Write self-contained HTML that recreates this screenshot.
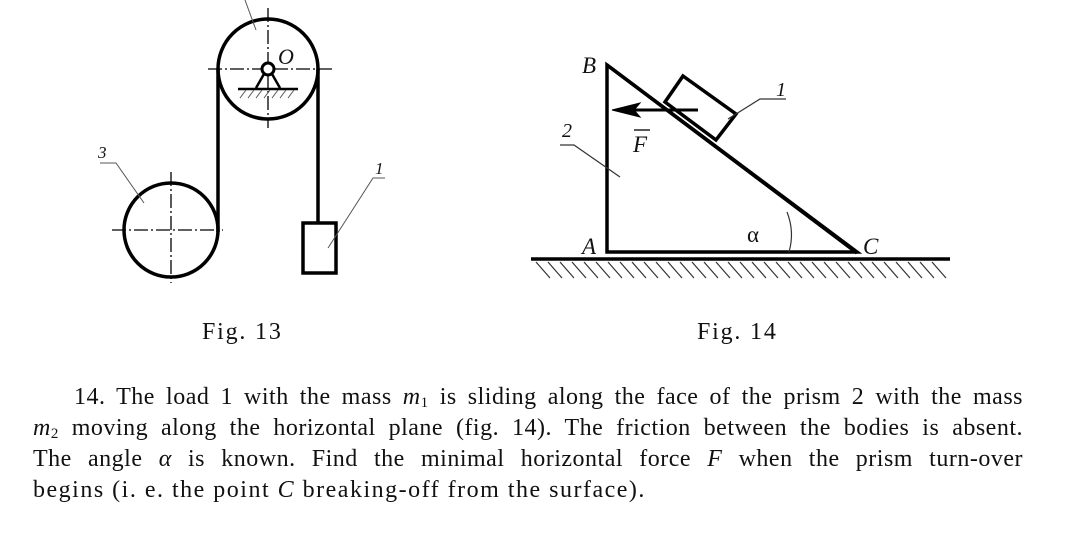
<!DOCTYPE html>
<html><head><meta charset="utf-8"><style>
body{margin:0;width:1080px;height:536px;background:#fff;position:relative;overflow:hidden;font-family:"Liberation Serif",serif;color:#111}
.l{position:absolute;font-size:24px;line-height:26px;white-space:nowrap;letter-spacing:1.5px}
.j{text-align:justify;text-align-last:justify;white-space:normal;letter-spacing:0.5px}
i{font-style:italic}
sub{font-size:15px;vertical-align:-3px;line-height:0}
.cap{position:absolute;font-size:24px;top:319px;letter-spacing:1.8px}
</style></head><body>
<svg width="1080" height="300" style="position:absolute;left:0;top:0" stroke="#000" fill="none">
<g stroke-width="3.5">
<circle cx="268" cy="69" r="50"/>
<circle cx="171" cy="230" r="47"/>
<line x1="218" y1="69" x2="218" y2="232"/>
<line x1="318" y1="69" x2="318" y2="223"/>
<rect x="303" y="223" width="33" height="50"/>
</g>
<g stroke-width="1.3" stroke-dasharray="14,3,2,3">
<line x1="208" y1="69" x2="333" y2="69"/>
<line x1="268" y1="8" x2="268" y2="128"/>
<line x1="112" y1="230" x2="223" y2="230"/>
<line x1="171" y1="172" x2="171" y2="283"/>
</g>
<circle cx="268" cy="69" r="6" stroke-width="3" fill="#fff"/>
<g stroke-width="2.5"><line x1="264" y1="74" x2="256" y2="88"/><line x1="272" y1="74" x2="280" y2="88"/><line x1="238" y1="89" x2="298" y2="89"/></g>
<g stroke-width="1" stroke="#555"><path d="M240,98l6,-8M248,98l6,-8M256,98l6,-8M264,98l6,-8M272,98l6,-8M280,98l6,-8M288,98l6,-8"/>
<line x1="245" y1="0" x2="256" y2="30"/>
<path d="M100,163h16l28,40"/>
<path d="M385,178h-12l-45,70"/></g>
<text x="278" y="64" font-family="Liberation Serif" font-style="italic" font-size="22" fill="#111" stroke="none">O</text>
<text x="98" y="158" font-family="Liberation Serif" font-style="italic" font-size="17" fill="#111" stroke="none">3</text>
<text x="375" y="174" font-family="Liberation Serif" font-style="italic" font-size="17" fill="#111" stroke="none">1</text>
<g stroke-width="3.5"><path d="M607,65V252H857Z"/>
<line x1="531" y1="259" x2="950" y2="259"/>
<path d="M683,76L736,114L716,140L665,102Z" fill="#fff"/>
<line x1="607" y1="65" x2="857" y2="253"/>
</g>
<g stroke-width="1.2" stroke="#333">
<path d="M536,262l14,16M548,262l14,16M560,262l14,16M572,262l14,16M584,262l14,16M596,262l14,16M608,262l14,16M620,262l14,16M632,262l14,16M644,262l14,16M656,262l14,16M668,262l14,16M680,262l14,16M692,262l14,16M704,262l14,16M716,262l14,16M728,262l14,16M740,262l14,16M752,262l14,16M764,262l14,16M776,262l14,16M788,262l14,16M800,262l14,16M812,262l14,16M824,262l14,16M836,262l14,16M848,262l14,16M860,262l14,16M872,262l14,16M884,262l14,16M896,262l14,16M908,262l14,16M920,262l14,16M932,262l14,16"/>
<path d="M786,99h-26l-32,20"/><path d="M560,145h14l46,32"/>
<path d="M787,212A62,62 0 0 1 789,252"/></g>
<line x1="628" y1="110" x2="698" y2="110" stroke-width="3"/>
<path d="M612,110L640,103L634,110L640,117Z" fill="#000" stroke-width="1"/>
<g font-family="Liberation Serif" font-size="23" fill="#111" stroke="none" font-style="italic">
<text x="582" y="73">B</text><text x="582" y="254">A</text><text x="863" y="254">C</text>
<text x="633" y="152">F</text><text x="776" y="96" font-size="20">1</text><text x="562" y="137" font-size="20">2</text>
<text x="747" y="242" font-style="normal">α</text></g>
<line x1="634" y1="130" x2="650" y2="130" stroke-width="1.3"/>
</svg>
<div class="cap" style="left:202px">Fig. 13</div>
<div class="cap" style="left:697px">Fig. 14</div>
<div class="l j" style="left:74px;top:384px;width:949px">14. The load 1 with the mass <i>m</i><sub>1</sub> is sliding along the face of the prism 2 with the mass</div>
<div class="l j" style="left:33px;top:415px;width:990px"><i>m</i><sub>2</sub> moving along the horizontal plane (fig. 14). The friction between the bodies is absent.</div>
<div class="l j" style="left:33px;top:446px;width:990px">The angle <i>α</i> is known. Find the minimal horizontal force <i>F</i> when the prism turn-over</div>
<div class="l" style="left:33px;top:477px">begins (i. e. the point <i>C</i> breaking-off from the surface).</div>
</body></html>
